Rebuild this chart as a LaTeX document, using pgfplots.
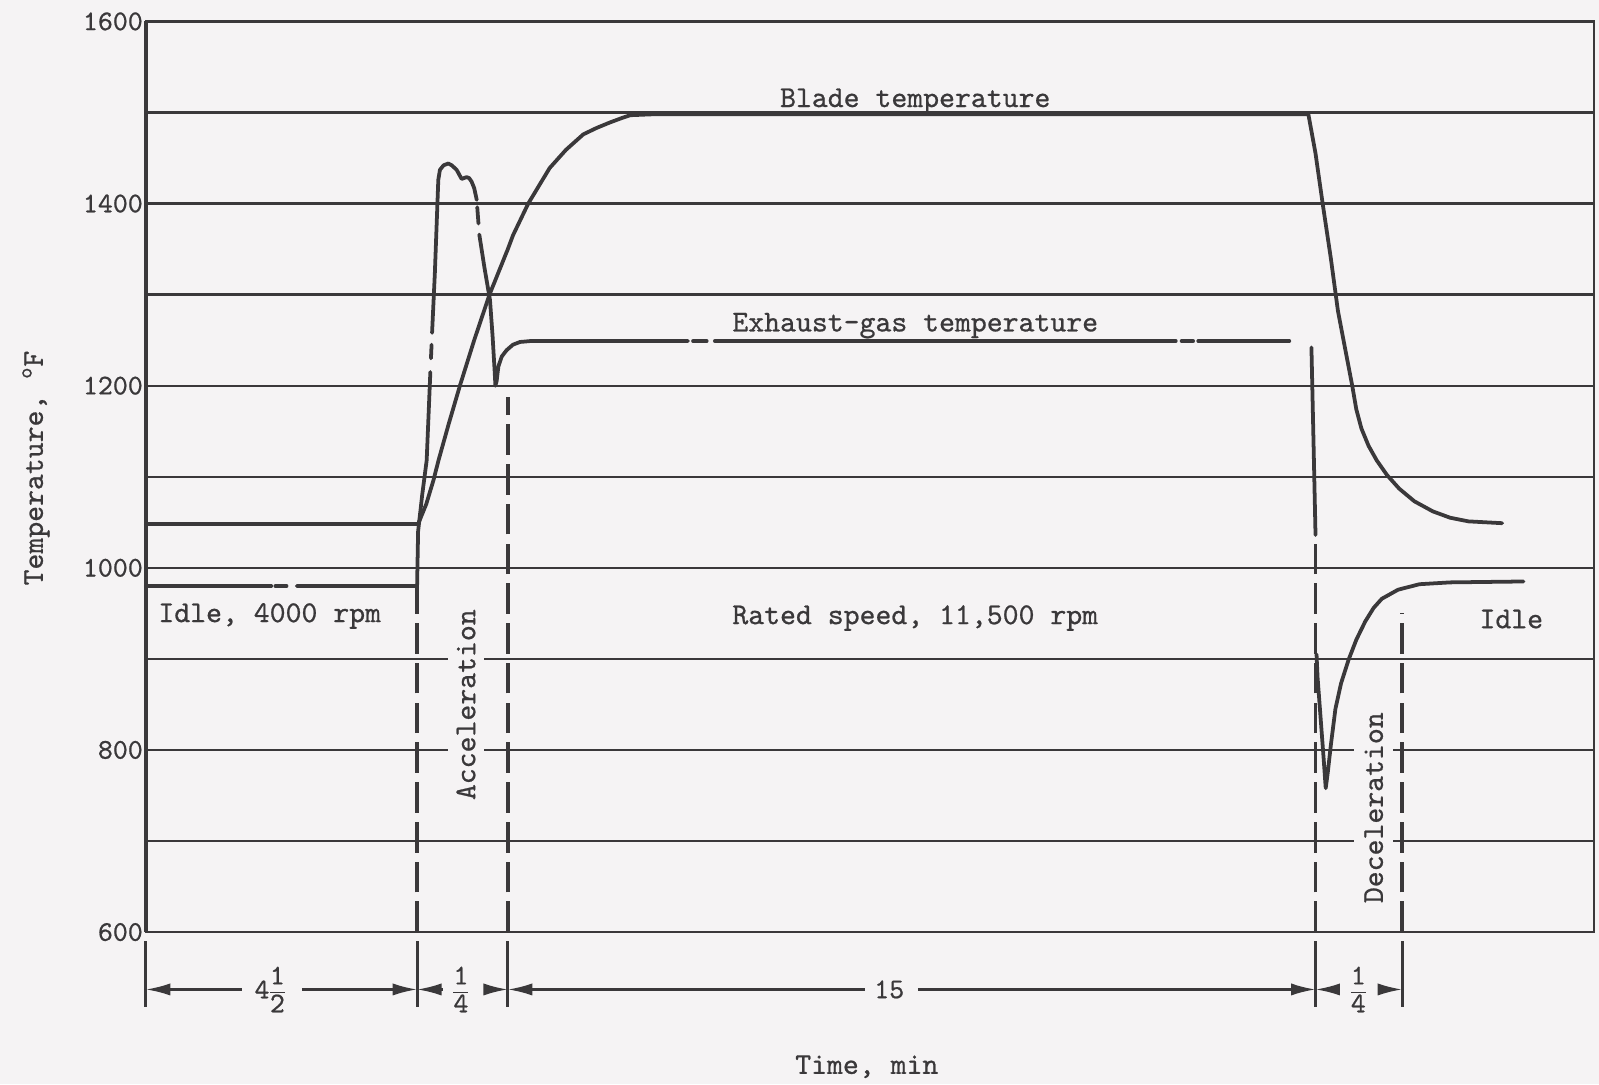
\documentclass[border=0pt]{standalone}
\usepackage{fontspec}
\usepackage{pgfplots}
\pgfplotsset{compat=1.18}
\usetikzlibrary{arrows.meta}

\newfontfamily\tw{lmmono10-regular.otf}[FakeBold=0.7]
\definecolor{ink}{RGB}{58,56,58}
\definecolor{paper}{RGB}{245,243,244}
\newcommand{\lblfont}{\fontsize{16.9}{20}\selectfont\tw}
\newcommand{\tck}{\fontsize{15.9}{18}\selectfont\tw}
\newcommand{\fr}[2]{$\displaystyle\frac{\mbox{\tck #1}}{\mbox{\tck #2}}$}

\tikzset{
  curve/.style={ink, line width=2.1pt, line join=round, line cap=round, mark=none},
  bound/.style={ink, line width=2.1pt, dash pattern=on 0.6cm off 0.18cm},
  dim/.style={ink, line width=1.3pt},
  tip/.style={-{Latex[length=0.48cm,width=0.24cm]}},
  lbl/.style={font=\lblfont, text=ink},
}

\begin{document}
\begin{tikzpicture}
% page, 1 px of the reference = 0.02 cm
\path[use as bounding box, fill=paper] (-2.86,-2.98) rectangle (28.5,18.28);
\begin{axis}[
  at={(0,0)}, anchor=south west,
  scale only axis, width=28.4cm, height=17.86cm,
  xmin=143, xmax=1563, ymin=600, ymax=1600,
  xtick=\empty,
  ytick={600,700,...,1600},
  yticklabels={600,,800,,1000,,1200,,1400,,1600},
  major tick length=0pt,
  ymajorgrids, grid style={ink, line width=1.25pt},
  axis line style={ink, line width=1.3pt},
  yticklabel style={font=\tck, text=ink, inner sep=1.5pt},
  /pgf/number format/assume math mode=true,
  clip=false,
]

% blade temperature
\addplot[curve] coordinates {
  (143,1048) (410,1048) (418,1070) (425,1096) (430,1118) (440,1158)
  (451,1200) (465,1250) (480,1300) (498,1350) (503,1365) (518,1400)
  (539,1439) (555,1459) (572,1476) (585,1483) (598,1489) (610,1494)
  (618,1497) (640,1498) (1283,1498) (1290,1455) (1297,1400) (1305,1340)
  (1312,1282) (1320,1235) (1326,1200) (1330,1174) (1335,1153) (1342,1134)
  (1350,1118) (1360,1102) (1372,1087) (1387,1073) (1405,1062) (1422,1055)
  (1440,1051) (1473,1049)
};

% exhaust-gas temperature
\addplot[curve] coordinates {(143,980) (266,980)};
\addplot[curve] coordinates {(270,980) (281,980)};
\addplot[curve] coordinates {
  (291,980) (409,980) (410,1040) (414,1080) (418.4,1118) (422,1215)
};
\addplot[curve] coordinates {(422.6,1230) (423.2,1245)};
\addplot[curve] coordinates {
  (423.7,1258) (426.4,1323) (429.8,1426) (431.4,1437) (435,1442)
  (439.6,1444) (443,1442) (447.8,1437) (452.7,1427) (455,1428)
  (457.6,1429) (460,1428) (462.5,1424) (465,1417) (467.5,1404)
};
\addplot[curve] coordinates {(468,1396) (469.2,1378)};
\addplot[curve] coordinates {
  (470,1366) (475,1330) (480.5,1294) (483,1255) (485,1217) (485.8,1200)
  (487,1205) (488.7,1221) (492,1232) (496.8,1239) (503,1245) (509.9,1248)
  (520,1249) (674.6,1249)
};
\addplot[curve] coordinates {(679.6,1249) (693,1249)};
\addplot[curve] coordinates {(701,1249) (1153,1249)};
\addplot[curve] coordinates {(1158.7,1249) (1170,1249)};
\addplot[curve] coordinates {(1175,1249) (1264.3,1249)};
\addplot[curve] coordinates {(1286,1242) (1288,1140) (1290,1036)};
\addplot[curve] coordinates {
  (1291,905) (1292,880) (1294,850) (1296,820) (1298,790) (1300,758)
  (1302,775) (1305,805) (1309.5,845) (1315,873) (1322.4,899) (1330,921)
  (1338.7,941) (1347,956) (1355,966) (1371,976) (1392,982) (1422,984)
  (1494,985)
};

% left axis is heavier
\draw[ink, line width=2.2pt] (axis cs:143,600) -- (axis cs:143,1600);

% phase boundaries
\draw[bound] (axis cs:409,600) -- (axis cs:409,980);
\draw[bound] (axis cs:498,600) -- (axis cs:498,1188);
\draw[bound] (axis cs:1290,600) -- (axis cs:1290,1030);
\draw[bound] (axis cs:1375,600) -- (axis cs:1375,950);

% texts
\node[lbl, anchor=base] at (axis cs:897.5,1506) {Blade temperature};
\node[lbl, anchor=base] at (axis cs:897.5,1259.6) {Exhaust-gas temperature};
\node[lbl, anchor=base west, inner sep=0pt] at (axis cs:155,940.4) {Idle, 4000 rpm};
\node[lbl, anchor=base] at (axis cs:897.5,938.2) {Rated speed, 11,500 rpm};
\node[lbl, anchor=base] at (axis cs:1482,933.7) {Idle};
\node[lbl, anchor=base, rotate=90, fill=paper, inner xsep=0.1cm, inner ysep=0.17cm]
  at (axis cs:466,849.7) {Acceleration};
\node[lbl, anchor=base, rotate=90, fill=paper, inner xsep=0.1cm, inner ysep=0.2cm]
  at (axis cs:1356,736.6) {Deceleration};
\node[lbl, anchor=base] at (axis cs:850,444.3) {Time, min};
\node[lbl, anchor=base, rotate=90] at (axis cs:42,1109.5) {Temperature, \textsuperscript{o}F};

% time spans below the axis
\draw[ink, line width=1.6pt] (axis cs:143,590) -- (axis cs:143,518);
\draw[ink, line width=1.6pt] (axis cs:409,590) -- (axis cs:409,518);
\draw[ink, line width=1.6pt] (axis cs:498,590) -- (axis cs:498,518);
\draw[ink, line width=1.6pt] (axis cs:1290,590) -- (axis cs:1290,518);
\draw[ink, line width=1.6pt] (axis cs:1375,590) -- (axis cs:1375,518);
\draw[dim, tip] (axis cs:237,537) -- (axis cs:143,537);
\draw[dim, tip] (axis cs:296,537) -- (axis cs:409,537);
\node[text=ink, anchor=center, inner sep=0pt] at (axis cs:257,537) {\tck 4};
\node[text=ink, anchor=center, inner sep=0pt] at (axis cs:272,537) {\fr{1}{2}};
\draw[dim, tip] (axis cs:434,537) -- (axis cs:409,537);
\node[text=ink, anchor=center, inner sep=0pt] at (axis cs:452,537) {\fr{1}{4}};
\draw[dim, tip] (axis cs:477,537) -- (axis cs:498,537);
\draw[dim, tip] (axis cs:848,537) -- (axis cs:498,537);
\node[text=ink, anchor=center, inner sep=0pt] at (axis cs:872,537) {\tck 15};
\draw[dim, tip] (axis cs:900,537) -- (axis cs:1290,537);
\draw[dim, tip] (axis cs:1309,537) -- (axis cs:1290,537);
\node[text=ink, anchor=center, inner sep=0pt] at (axis cs:1332,537) {\fr{1}{4}};
\draw[dim, tip] (axis cs:1352,537) -- (axis cs:1375,537);

\end{axis}
\end{tikzpicture}
\end{document}
